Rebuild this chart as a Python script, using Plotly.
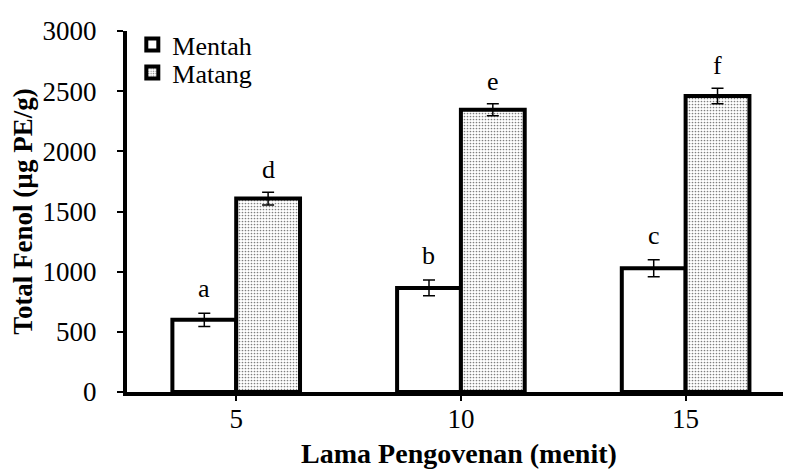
import plotly.graph_objects as go

times = ["5", "10", "15"]
mentah = [600, 865, 1028]
mentah_err = [55, 65, 70]
matang = [1607, 2345, 2460]
matang_err = [53, 50, 65]
mentah_letters = ["a", "b", "c"]
matang_letters = ["d", "e", "f"]

FONT = "Liberation Serif"

fig = go.Figure()
fig.add_trace(
    go.Bar(
        x=times,
        y=mentah,
        name="Mentah",
        legend="legend",
        marker=dict(color="white", line=dict(color="black", width=4)),
        error_y=dict(type="data", array=mentah_err, color="black", thickness=1.5, width=6),
    )
)
fig.add_trace(
    go.Bar(
        x=times,
        y=matang,
        name="Matang",
        legend="legend2",
        marker=dict(
            color="white",
            line=dict(color="black", width=4),
            pattern=dict(shape=".", fgcolor="black", bgcolor="white", size=3, solidity=0.25),
        ),
        error_y=dict(type="data", array=matang_err, color="black", thickness=1.5, width=6),
    )
)

# significance letters above each error bar (category index on the x axis)
for i, (v, e, lab) in enumerate(zip(mentah, mentah_err, mentah_letters)):
    fig.add_annotation(x=i, y=v + e, text=lab, showarrow=False, xshift=-32, yshift=8,
                       yanchor="bottom", font=dict(family=FONT, size=26, color="black"))
for i, (v, e, lab) in enumerate(zip(matang, matang_err, matang_letters)):
    fig.add_annotation(x=i, y=v + e, text=lab, showarrow=False, xshift=32, yshift=6,
                       yanchor="bottom", font=dict(family=FONT, size=26, color="black"))

legend_style = dict(
    xanchor="left", yanchor="middle",
    font=dict(family=FONT, size=26, color="black"),
    bgcolor="rgba(0,0,0,0)", itemwidth=30,
)

fig.update_layout(
    width=791,
    height=476,
    barmode="group",
    bargap=0.432,
    bargroupgap=0,
    paper_bgcolor="white",
    plot_bgcolor="white",
    font=dict(family=FONT, size=26, color="black"),
    margin=dict(l=118, r=8, t=18, b=92),
    showlegend=True,
    legend=dict(x=0.008, y=0.962, **legend_style),
    legend2=dict(x=0.008, y=0.885, **legend_style),
    xaxis=dict(
        type="category",
        range=[-0.486, 2.469],
        showline=True, linecolor="black", linewidth=4,
        ticks="outside", ticklen=5, tickwidth=2, tickcolor="black",
        ticklabelstandoff=-5,
        tickson="labels",
        showgrid=False,
        tickfont=dict(family=FONT, size=27, color="black"),
        title=dict(text="<b>Lama Pengovenan (menit)</b>", font=dict(family=FONT, size=28, color="black"), standoff=11),
    ),
    yaxis=dict(
        range=[0, 3000],
        dtick=500,
        showline=True, linecolor="black", linewidth=4,
        ticks="outside", ticklen=6, tickwidth=2, tickcolor="black",
        ticklabelstandoff=15,
        showgrid=False, zeroline=False,
        tickfont=dict(family=FONT, size=27, color="black"),
        title=dict(text="<b>Total Fenol (µg PE/g)</b>", font=dict(family=FONT, size=27, color="black"), standoff=8),
    ),
)

fig.write_html("out.html")
